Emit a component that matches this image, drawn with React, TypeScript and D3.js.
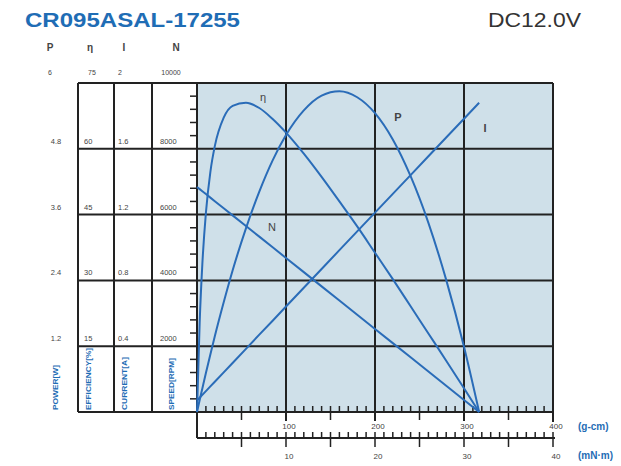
// Motor performance chart: torque vs P / η / I / N, drawn with D3 scales + JSX.

import * as d3 from "d3";

// ── Data ──────────────────────────────────────────────────────────────────────

const torque = [0, 3, 6, 10, 15, 20, 30, 40, 55, 70, 85, 100, 120, 140, 160, 180, 200, 220, 240, 260, 280, 300, 317];
const power = [0, 0.22, 0.43, 0.71, 1.05, 1.38, 2.0, 2.58, 3.35, 4.02, 4.59, 5.05, 5.5, 5.77, 5.85, 5.74, 5.45, 4.97, 4.3, 3.45, 2.41, 1.19, 0];
const efficiency = [0, 20.4, 33.7, 45.4, 54.7, 60.6, 67.1, 69.8, 70.5, 69.3, 66.8, 63.7, 58.9, 53.6, 48.0, 42.3, 36.3, 30.3, 24.1, 17.9, 11.7, 5.4, 0];
const current = [0.07, 0.087, 0.104, 0.127, 0.156, 0.184, 0.241, 0.298, 0.384, 0.47, 0.555, 0.641, 0.755, 0.869, 0.984, 1.098, 1.212, 1.326, 1.44, 1.555, 1.669, 1.783, 1.88];
const speed = [6840, 6775, 6711, 6624, 6516, 6408, 6193, 5977, 5653, 5330, 5006, 4682, 4251, 3819, 3388, 2956, 2525, 2093, 1662, 1230, 798, 367, 0];

const powerTicks = ["1.2", "2.4", "3.6", "4.8"];
const effTicks = ["15", "30", "45", "60"];
const currTicks = ["0.4", "0.8", "1.2", "1.6"];
const speedTicks = ["2000", "4000", "6000", "8000"];
const gcmTicks = [100, 200, 300, 400];
const mnmTicks = [10, 20, 30, 40];

const BLUE = "#1f6db5";
const CURVE = "#2a6cb8";
const GRID = "#222";
const FONT = "'Liberation Sans', Arial, sans-serif";

export default function App() {
  const W = 621;
  const H = 466;
  const left = 197;
  const right = 553;
  const top = 83;
  const bottom = 412;
  const axis2 = 438;
  const tableX = [78, 114, 152];

  const x = d3.scaleLinear().domain([0, 400]).range([left, right]);
  const xm = d3.scaleLinear().domain([0, 40]).range([left, right]);
  const yRow = d3.scaleLinear().domain([0, 5]).range([bottom, top]);
  const yP = d3.scaleLinear().domain([0, 6]).range([bottom, top]);
  const yE = d3.scaleLinear().domain([0, 75]).range([bottom, top]);
  const yI = d3.scaleLinear().domain([0, 2]).range([bottom, top]);
  const yN = d3.scaleLinear().domain([0, 10000]).range([bottom, top]);

  const mk = (vals: number[], y: d3.ScaleLinear<number, number>, curve: d3.CurveFactory) =>
    d3
      .line<number>()
      .x((_, i) => x(torque[i]))
      .y((v) => y(v))
      .curve(curve)(vals) ?? "";

  const pPath = mk(power, yP, d3.curveMonotoneX);
  const ePath = mk(efficiency, yE, d3.curveMonotoneX);
  const iPath = mk(current, yI, d3.curveLinear);
  const nPath = mk(speed, yN, d3.curveLinear);

  const rows = d3.range(1, 5);
  const minorLeft = d3.range(1, 25).filter((k) => k % 5 !== 0).map((k) => yRow(k / 5));
  const minorTop = d3.range(0, 401, 10);
  const minorBot = d3.range(0, 41, 1);

  const small = { fontFamily: FONT, fontSize: 8, fill: "#444" } as const;

  return (
    <svg
      width={W}
      height={H}
      style={{ position: "absolute", left: 0, top: 0, background: "#fff" }}
    >
      {/* titles */}
      <text x={25} y={27} fontFamily={FONT} fontWeight="bold" fontSize={21} fill={BLUE} textLength={215} lengthAdjust="spacingAndGlyphs">
        CR095ASAL-17255
      </text>
      <text x={488} y={27} fontFamily={FONT} fontSize={20} fill="#333" textLength={93} lengthAdjust="spacingAndGlyphs">
        DC12.0V
      </text>

      {/* column headers */}
      {[["P", 50], ["η", 90], ["I", 124], ["N", 176]].map(([t, cx]) => (
        <text key={t as string} x={cx as number} y={51} textAnchor="middle" {...small} fontSize={10} fontWeight="bold">
          {t}
        </text>
      ))}
      {[["6", 50], ["75", 92], ["2", 120], ["10000", 171]].map(([t, cx]) => (
        <text key={t as string} x={cx as number} y={75} textAnchor="middle" {...small} fontSize={7}>
          {t}
        </text>
      ))}

      {/* plot background */}
      <rect x={left} y={top} width={right - left} height={bottom - top} fill="#cfe0e9" />

      {/* row labels */}
      {rows.map((r, i) => (
        <g key={r} {...small} fontSize={7.5}>
          <text x={56} y={yRow(r) - 5} textAnchor="middle">{powerTicks[i]}</text>
          <text x={84} y={yRow(r) - 5}>{effTicks[i]}</text>
          <text x={118} y={yRow(r) - 5}>{currTicks[i]}</text>
          <text x={160} y={yRow(r) - 5}>{speedTicks[i]}</text>
        </g>
      ))}

      {/* unit labels in bottom row */}
      {[
        ["POWER[W]", 58, 45],
        ["EFFICIENCY[%]", 91, 62],
        ["CURRENT[A]", 127, 53],
        ["SPEED[RPM]", 174, 52],
      ].map(([t, cx, len]) => (
        <text
          key={t as string}
          transform={`translate(${cx},${bottom - 2}) rotate(-90)`}
          fontFamily={FONT}
          fontWeight="bold"
          fontSize={8}
          fill={BLUE}
          textLength={len as number}
          lengthAdjust="spacingAndGlyphs"
        >
          {t}
        </text>
      ))}

      {/* horizontal grid incl. table rows */}
      {d3.range(0, 6).map((r) => (
        <line key={r} x1={tableX[0]} x2={right} y1={yRow(r)} y2={yRow(r)} stroke={GRID} strokeWidth={2} />
      ))}
      {/* table verticals */}
      {tableX.map((tx) => (
        <line key={tx} x1={tx} x2={tx} y1={top} y2={bottom} stroke={GRID} strokeWidth={2} />
      ))}
      <line x1={left} x2={left} y1={top} y2={axis2} stroke={GRID} strokeWidth={2} />
      {/* plot verticals */}
      {gcmTicks.map((t) => (
        <line key={t} x1={x(t)} x2={x(t)} y1={top} y2={t === 400 ? bottom + 10 : bottom + 9} stroke={GRID} strokeWidth={2} />
      ))}

      {/* left minor ticks */}
      {minorLeft.map((yy, i) => (
        <line key={i} x1={left - 7} x2={left} y1={yy} y2={yy} stroke={GRID} strokeWidth={1.5} />
      ))}

      {/* torque axis (g-cm) */}
      {minorTop.map((t) =>
        t % 100 === 0 ? null : (
          <line
            key={t}
            x1={x(t)}
            x2={x(t)}
            y1={bottom - 6}
            y2={t % 50 === 0 ? bottom + 8 : bottom}
            stroke={GRID}
            strokeWidth={1.5}
          />
        )
      )}
      {gcmTicks.map((t) => (
        <text key={t} x={x(t) + 3} y={bottom + 17} textAnchor="middle" {...small}>
          {t}
        </text>
      ))}

      {/* torque axis (mN·m) */}
      <line x1={left} x2={right + 2} y1={axis2} y2={axis2} stroke={GRID} strokeWidth={2} />
      {minorBot.map((t) => (
        <line
          key={t}
          x1={xm(t)}
          x2={xm(t)}
          y1={axis2 - 6}
          y2={t % 5 === 0 && t > 0 ? axis2 + 9 : axis2}
          stroke={GRID}
          strokeWidth={1.5}
        />
      ))}
      {mnmTicks.map((t) => (
        <text key={t} x={xm(t) + 3} y={axis2 + 21} textAnchor="middle" {...small}>
          {t}
        </text>
      ))}

      <text x={578} y={430} fontFamily={FONT} fontWeight="bold" fontSize={10} fill={BLUE}>(g-cm)</text>
      <text x={578} y={459} fontFamily={FONT} fontWeight="bold" fontSize={10} fill={BLUE}>(mN·m)</text>

      {/* curves */}
      <g fill="none" stroke={CURVE} strokeWidth={2}>
        <path d={nPath} />
        <path d={iPath} />
        <path d={pPath} />
        <path d={ePath} />
      </g>

      {/* curve labels */}
      <g fontFamily={FONT} fontSize={11} fill="#444">
        <text x={263} y={101} textAnchor="middle">η</text>
        <text x={398} y={121} textAnchor="middle" fontWeight="bold">P</text>
        <text x={485} y={132} textAnchor="middle" fontWeight="bold">I</text>
        <text x={272} y={231} textAnchor="middle">N</text>
      </g>
    </svg>
  );
}
